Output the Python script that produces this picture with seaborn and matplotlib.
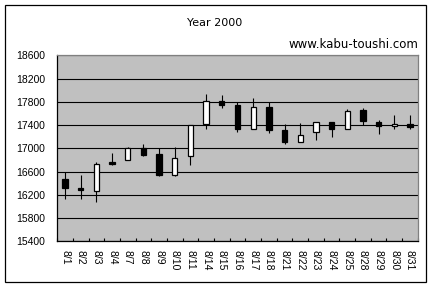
import numpy as np
import pandas as pd
import matplotlib
matplotlib.use("Agg")
import matplotlib.pyplot as plt
from matplotlib.patches import Rectangle
import seaborn as sns

dates = ["8/1", "8/2", "8/3", "8/4", "8/7", "8/8", "8/9", "8/10", "8/11", "8/14",
         "8/15", "8/16", "8/17", "8/18", "8/21", "8/22", "8/23", "8/24", "8/25",
         "8/28", "8/29", "8/30", "8/31"]
opens = [16480, 16320, 16260, 16770, 16800, 17000, 16905, 16535, 16860, 17410,
         17810, 17745, 17340, 17710, 17315, 17100, 17280, 17455, 17330,
         17660, 17455, 17380, 17420]
highs = [16600, 16545, 16770, 16920, 17025, 17075, 17000, 17025, 17400, 17935,
         17920, 17795, 17865, 17795, 17420, 17440, 17455, 17455, 17680,
         17695, 17490, 17575, 17575]
lows = [16130, 16130, 16080, 16715, 16795, 16870, 16530, 16515, 16715, 17335,
        17700, 17285, 17340, 17270, 17075, 17100, 17150, 17200, 17330,
        17400, 17250, 17330, 17340]
closes = [16310, 16290, 16735, 16735, 17000, 16890, 16545, 16840, 17400, 17810,
          17750, 17340, 17710, 17315, 17100, 17225, 17455, 17330, 17640,
          17475, 17380, 17420, 17360]
y_ticks = [15400, 15800, 16200, 16600, 17000, 17400, 17800, 18200, 18600]
title = "Year 2000"
source = "www.kabu-toushi.com"

sns.set_style("white")
plt.rcParams["font.family"] = ["Liberation Sans", "DejaVu Sans"]

df = pd.DataFrame({"date": dates, "open": opens, "high": highs,
                   "low": lows, "close": closes})
df["base"] = df[["open", "close"]].min(axis=1)
df["body"] = (df["close"] - df["open"]).abs()
up = df[df["close"] >= df["open"]]
down = df[df["close"] < df["open"]]

fig = plt.figure(figsize=(4.32, 2.88), dpi=100)
fig.patch.set_facecolor("white")
ax = fig.add_axes([57.3 / 432, 1 - 241.3 / 288, 360.4 / 432, 186 / 288])
ax.set_facecolor("#C0C0C0")

for sub, fc in [(up, "white"), (down, "black")]:
    sns.barplot(data=sub, x="date", y="body", order=dates,
                bottom=sub["base"].to_numpy(), color=fc, edgecolor="black",
                linewidth=0.9, width=0.34, saturation=1, errorbar=None,
                zorder=3, ax=ax)

xpos = np.arange(len(dates))
ax.vlines(xpos, df["low"], df["high"], colors="black", linewidth=0.8, zorder=2)

ax.set_xlim(-0.5, len(dates) - 0.5)
ax.set_ylim(y_ticks[0], y_ticks[-1])
ax.set_yticks(y_ticks)
ax.set_yticklabels([str(v) for v in y_ticks])
ax.set_xlabel("")
ax.set_ylabel("")
ax.set_axisbelow(True)
ax.yaxis.grid(True, color="black", linewidth=0.8)
ax.xaxis.grid(False)

ax.set_xticks(xpos)
ax.set_xticklabels(dates)
ax.set_xticks(np.arange(-0.5, len(dates), 1.0), minor=True)
ax.tick_params(axis="x", which="major", length=0, pad=6, labelsize=7.5,
               labelcolor="black")
ax.tick_params(axis="x", which="minor", direction="in", length=2.3,
               width=0.8, color="black", bottom=True)
ax.tick_params(axis="y", length=0, pad=8.5, labelsize=7.5, labelcolor="black")
plt.setp(ax.get_xticklabels(), rotation=-90, ha="center", va="top")

for side in ["top", "right"]:
    ax.spines[side].set_color("#808080")
    ax.spines[side].set_linewidth(0.9)
for side in ["left", "bottom"]:
    ax.spines[side].set_color("black")
    ax.spines[side].set_linewidth(0.9)

fig.text(215 / 432, 1 - 22.5 / 288, title, ha="center", va="center",
         fontsize=8, family="DejaVu Sans", color="black")
fig.text(418.5 / 432, 1 - 44.5 / 288, source, ha="right", va="center",
         fontsize=8.5, family="DejaVu Sans", color="black")

fig.patches.append(Rectangle((5 / 432, 1 - 282 / 288), 421 / 432, 277 / 288,
                             transform=fig.transFigure, fill=False,
                             edgecolor="black", linewidth=0.9))

fig.savefig("out.png", dpi=100)
